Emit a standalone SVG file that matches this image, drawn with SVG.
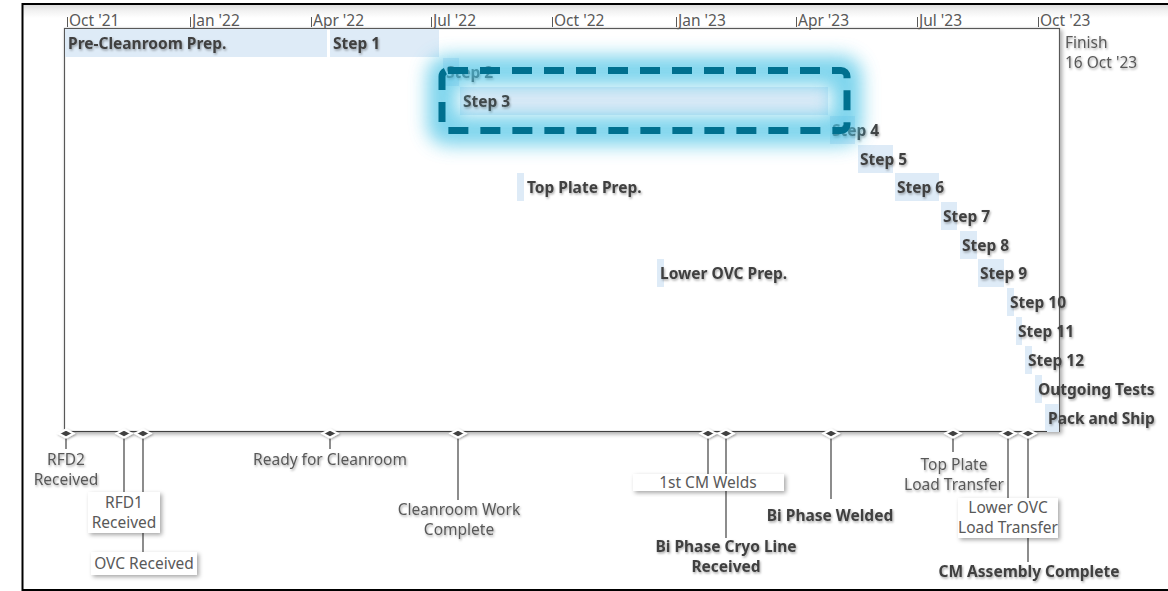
<svg xmlns="http://www.w3.org/2000/svg" width="1168" height="591" viewBox="0 0 1168 591">
<defs>
<style>
.ax{font-family:"Noto Sans","Open Sans",sans-serif;font-size:15.5px;fill:#595959}
.bl{font-family:"Noto Sans","Open Sans",sans-serif;font-size:15.5px;font-weight:bold;fill:#404040}
.ml{font-family:"Noto Sans","Open Sans",sans-serif;font-size:15.5px;fill:#595959;text-anchor:middle}
.mb{font-family:"Noto Sans","Open Sans",sans-serif;font-size:15.5px;font-weight:bold;fill:#404040;text-anchor:middle}
.bar{fill:#deebf7}
.tick{stroke:#595959;stroke-width:1}
.lead{stroke:#404040;stroke-width:1.2;fill:none}
.dia{fill:#404040;stroke:#ffffff;stroke-width:2}
.lbox{fill:#ffffff}
</style>
<filter id="ts" x="-10%" y="-30%" width="120%" height="160%">
<feDropShadow dx="1" dy="1.5" stdDeviation="1.2" flood-color="#000" flood-opacity="0.35"/>
</filter>
<filter id="bs" x="-10%" y="-20%" width="130%" height="150%">
<feDropShadow dx="2" dy="2" stdDeviation="2" flood-color="#000" flood-opacity="0.35"/>
</filter>
<filter id="ds" x="-30%" y="-60%" width="160%" height="220%">
<feDropShadow dx="1" dy="1" stdDeviation="1" flood-color="#000" flood-opacity="0.35"/>
</filter>
<filter id="glow" x="-20%" y="-100%" width="140%" height="300%">
<feGaussianBlur stdDeviation="9"/>
</filter>
<linearGradient id="topg" x1="0" y1="0" x2="0" y2="1">
<stop offset="0" stop-color="#d9d9d9"/>
<stop offset="0.5" stop-color="#f2f2f2"/>
<stop offset="1" stop-color="#ffffff"/>
</linearGradient>
</defs>
<rect x="0" y="0" width="1168" height="591" fill="#ffffff"/>
<g id="frame">
<rect x="22" y="4" width="1150" height="14" fill="url(#topg)"/>
<path d="M1170 4 H22.5 V590 H1170" fill="none" stroke="#000" stroke-width="2"/>
</g>
<g id="chart">
<rect x="64.5" y="28.5" width="995" height="403" fill="#ffffff" stroke="#595959" stroke-width="1.2" filter="url(#bs)"/>
</g>
<g id="axis">
<line class="tick" x1="67.5" y1="17" x2="67.5" y2="27"/><text class="ax" x="69" y="26">Oct '21</text>
<line class="tick" x1="190.5" y1="17" x2="190.5" y2="27"/><text class="ax" x="192" y="26">Jan '22</text>
<line class="tick" x1="311.5" y1="17" x2="311.5" y2="27"/><text class="ax" x="313" y="26">Apr '22</text>
<line class="tick" x1="431.5" y1="17" x2="431.5" y2="27"/><text class="ax" x="433" y="26">Jul '22</text>
<line class="tick" x1="552.5" y1="17" x2="552.5" y2="27"/><text class="ax" x="554" y="26">Oct '22</text>
<line class="tick" x1="676.5" y1="17" x2="676.5" y2="27"/><text class="ax" x="678" y="26">Jan '23</text>
<line class="tick" x1="796.5" y1="17" x2="796.5" y2="27"/><text class="ax" x="798" y="26">Apr '23</text>
<line class="tick" x1="917.5" y1="17" x2="917.5" y2="27"/><text class="ax" x="919" y="26">Jul '23</text>
<line class="tick" x1="1038.5" y1="17" x2="1038.5" y2="27"/><text class="ax" x="1040" y="26">Oct '23</text>
</g>
<g id="finish" filter="url(#ts)">
<text class="ax" x="1065" y="48">Finish</text>
<text class="ax" x="1065" y="68">16 Oct '23</text>
</g>
<g id="task-pre-cleanroom"><rect class="bar" x="65" y="29" width="262" height="28"/><text class="bl" x="68" y="49" filter="url(#ts)">Pre-Cleanroom Prep.</text></g>
<g id="task-step1"><rect class="bar" x="330" y="29" width="109" height="28"/><text class="bl" x="333" y="49" filter="url(#ts)">Step 1</text></g>
<g id="task-step2"><rect class="bar" x="443" y="58" width="16" height="28"/><text class="bl" x="446" y="78" filter="url(#ts)">Step 2</text></g>
<g id="task-step3"><rect class="bar" x="460" y="87" width="368" height="28"/><text class="bl" x="463" y="107" filter="url(#ts)">Step 3</text></g>
<g id="task-step4"><rect class="bar" x="830" y="116" width="25" height="28"/><text class="bl" x="832" y="136" filter="url(#ts)">Step 4</text></g>
<g id="task-step5"><rect class="bar" x="858" y="145" width="35" height="28"/><text class="bl" x="860" y="165" filter="url(#ts)">Step 5</text></g>
<g id="task-step6"><rect class="bar" x="895" y="173" width="44" height="28"/><text class="bl" x="897" y="193" filter="url(#ts)">Step 6</text></g>
<g id="task-top-plate"><rect class="bar" x="517" y="173" width="7" height="28"/><text class="bl" x="527" y="193" filter="url(#ts)">Top Plate Prep.</text></g>
<g id="task-step7"><rect class="bar" x="941" y="202" width="16" height="28"/><text class="bl" x="943" y="222" filter="url(#ts)">Step 7</text></g>
<g id="task-step8"><rect class="bar" x="960" y="231" width="17" height="28"/><text class="bl" x="962" y="251" filter="url(#ts)">Step 8</text></g>
<g id="task-step9"><rect class="bar" x="978" y="259" width="26" height="28"/><text class="bl" x="980" y="279" filter="url(#ts)">Step 9</text></g>
<g id="task-lower-ovc"><rect class="bar" x="657" y="259" width="7" height="28"/><text class="bl" x="660" y="279" filter="url(#ts)">Lower OVC Prep.</text></g>
<g id="task-step10"><rect class="bar" x="1007" y="288" width="7" height="28"/><text class="bl" x="1010" y="308" filter="url(#ts)">Step 10</text></g>
<g id="task-step11"><rect class="bar" x="1016" y="317" width="6" height="28"/><text class="bl" x="1018" y="337" filter="url(#ts)">Step 11</text></g>
<g id="task-step12"><rect class="bar" x="1025" y="346" width="7" height="28"/><text class="bl" x="1028" y="366" filter="url(#ts)">Step 12</text></g>
<g id="task-outgoing"><rect class="bar" x="1035" y="375" width="7" height="28"/><text class="bl" x="1038" y="395" filter="url(#ts)">Outgoing Tests</text></g>
<g id="task-pack"><rect class="bar" x="1045" y="404" width="14" height="28"/><text class="bl" x="1048" y="424" filter="url(#ts)">Pack and Ship</text></g>
<g id="highlight">
<rect x="442" y="70.5" width="405" height="60" rx="6" fill="none" stroke="#4cc4e6" stroke-width="30" opacity="0.72" filter="url(#glow)"/>
<rect x="442" y="70.5" width="405" height="60" rx="6" fill="none" stroke="#00708f" stroke-width="7" stroke-dasharray="20 12"/>
</g>
<g id="connectors">
<line x1="64" y1="431.5" x2="1047" y2="431.5" stroke="#404040" stroke-width="1.2"/>
<line class="lead" x1="66" y1="436" x2="66" y2="449"/>
<line class="lead" x1="124" y1="436" x2="124" y2="492"/>
<line class="lead" x1="143" y1="436" x2="143" y2="552"/>
<line class="lead" x1="330" y1="436" x2="330" y2="449"/>
<line class="lead" x1="458" y1="436" x2="458" y2="500"/>
<line class="lead" x1="708" y1="436" x2="708" y2="474"/>
<line class="lead" x1="726" y1="436" x2="726" y2="538"/>
<line class="lead" x1="831" y1="436" x2="831" y2="499"/>
<line class="lead" x1="953" y1="436" x2="953" y2="452"/>
<line class="lead" x1="1008" y1="436" x2="1008" y2="498"/>
<line class="lead" x1="1028" y1="436" x2="1028" y2="562"/>
</g>
<g id="ms-rfd2"><polygon class="dia" points="58.5,433.5 66,429.5 73.5,433.5 66,437.5" filter="url(#ds)"/><g filter="url(#ts)"><text class="ml" x="66" y="465">RFD2</text><text class="ml" x="66" y="485">Received</text></g></g>
<g id="ms-rfd1"><polygon class="dia" points="116.5,433.5 124,429.5 131.5,433.5 124,437.5" filter="url(#ds)"/><rect class="lbox" x="88" y="492" width="72" height="41" filter="url(#bs)"/><text class="ml" x="124" y="508">RFD1</text><text class="ml" x="124" y="528">Received</text></g>
<g id="ms-ovc"><polygon class="dia" points="135.5,433.5 143,429.5 150.5,433.5 143,437.5" filter="url(#ds)"/><rect class="lbox" x="91" y="552" width="106" height="23" filter="url(#bs)"/><text class="ml" x="144" y="569">OVC Received</text></g>
<g id="ms-ready"><polygon class="dia" points="322.5,433.5 330,429.5 337.5,433.5 330,437.5" filter="url(#ds)"/><text class="ml" x="330" y="465" filter="url(#ts)">Ready for Cleanroom</text></g>
<g id="ms-cleanroom-complete"><polygon class="dia" points="450.5,433.5 458,429.5 465.5,433.5 458,437.5" filter="url(#ds)"/><g filter="url(#ts)"><text class="ml" x="459" y="515">Cleanroom Work</text><text class="ml" x="459" y="535">Complete</text></g></g>
<g id="ms-1st-cm"><polygon class="dia" points="700.5,433.5 708,429.5 715.5,433.5 708,437.5" filter="url(#ds)"/><rect class="lbox" x="633" y="474" width="151" height="17" filter="url(#bs)"/><text class="ml" x="708" y="488">1st CM Welds</text></g>
<g id="ms-biphase-cryo"><polygon class="dia" points="718.5,433.5 726,429.5 733.5,433.5 726,437.5" filter="url(#ds)"/><g filter="url(#ts)"><text class="mb" x="726" y="552">Bi Phase Cryo Line</text><text class="mb" x="726" y="572">Received</text></g></g>
<g id="ms-biphase-welded"><polygon class="dia" points="823.5,433.5 831,429.5 838.5,433.5 831,437.5" filter="url(#ds)"/><text class="mb" x="830" y="521" filter="url(#ts)">Bi Phase Welded</text></g>
<g id="ms-top-plate"><polygon class="dia" points="945.5,433.5 953,429.5 960.5,433.5 953,437.5" filter="url(#ds)"/><g filter="url(#ts)"><text class="ml" x="954" y="470">Top Plate</text><text class="ml" x="954" y="490">Load Transfer</text></g></g>
<g id="ms-lower-ovc"><polygon class="dia" points="1000.5,433.5 1008,429.5 1015.5,433.5 1008,437.5" filter="url(#ds)"/><rect class="lbox" x="958" y="498" width="100" height="40" filter="url(#bs)"/><text class="ml" x="1008" y="513">Lower OVC</text><text class="ml" x="1008" y="533">Load Transfer</text></g>
<g id="ms-cm-assembly"><polygon class="dia" points="1020.5,433.5 1028,429.5 1035.5,433.5 1028,437.5" filter="url(#ds)"/><text class="mb" x="1029" y="577" filter="url(#ts)">CM Assembly Complete</text></g>
</svg>
